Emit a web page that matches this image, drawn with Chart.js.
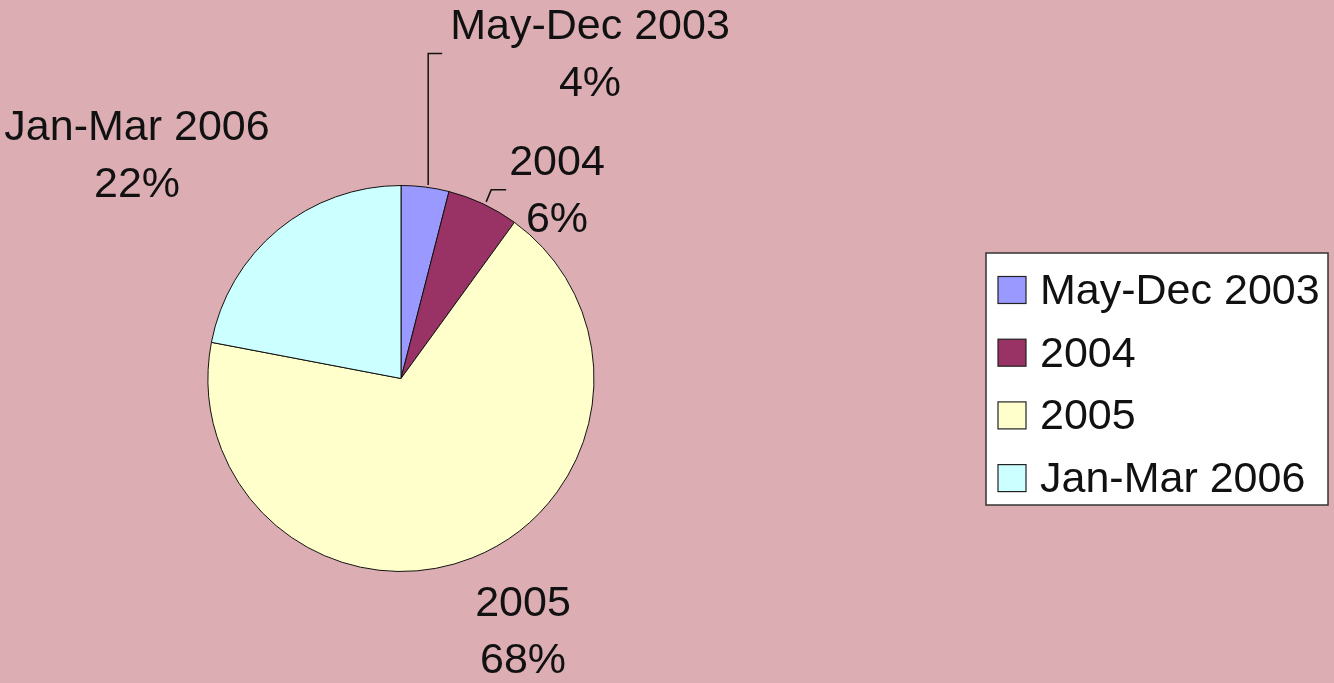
<!DOCTYPE html>
<html>
<head>
<meta charset="utf-8">
<script src="https://cdn.jsdelivr.net/npm/chart.js@4"></script>
<style>
  html, body { margin: 0; padding: 0; background: #dcaeb3; }
  #wrap { width: 1334px; height: 683px; }
</style>
</head>
<body>
<div id="wrap"><canvas id="grafico" width="1334" height="683"></canvas></div>
<script>
// dados do gráfico
const periodos = ['May-Dec 2003', '2004', '2005', 'Jan-Mar 2006'];
const valores = [4, 6, 68, 22];
const cores = ['#9999ff', '#993366', '#ffffcc', '#ccffff'];

const FONTE = '43px "Liberation Sans", Arial, sans-serif';

// rótulos com linhas de chamada (posição relativa ao centro da pizza)
const rotulosPlugin = {
    id: 'rotulos',
    afterDatasetsDraw(chart) {
        const ctx = chart.ctx;
        const meta = chart.getDatasetMeta(0);
        const total = valores.reduce((a, b) => a + b, 0);
        const cx = meta.data[0].x, cy = meta.data[0].y, r = meta.data[0].outerRadius;
        const desloc = [[189, -351], [156, -215], [122, 226], [-264, -250]];

        ctx.save();
        ctx.font = FONTE;
        ctx.fillStyle = '#111';
        ctx.textAlign = 'center';
        ctx.textBaseline = 'middle';
        periodos.forEach((p, i) => {
            const pct = Math.round(valores[i] / total * 100) + '%';
            const x = cx + desloc[i][0], y = cy + desloc[i][1];
            ctx.fillText(p, x, y);
            ctx.fillText(pct, x, y + 57);
        });

        // linhas de chamada
        ctx.strokeStyle = '#111';
        ctx.lineWidth = 1.5;
        const arc0 = meta.data[0];
        const m0 = (arc0.startAngle + arc0.endAngle) / 2;
        const x0 = cx + Math.cos(m0) * r, y0 = cy + Math.sin(m0) * r;
        ctx.beginPath();
        ctx.moveTo(x0 + 3, y0 - 2);
        ctx.lineTo(x0 + 3, cy - 325);
        ctx.lineTo(x0 + 17, cy - 325);
        ctx.stroke();

        const arc1 = meta.data[1];
        const m1 = (arc1.startAngle + arc1.endAngle) / 2;
        const x1 = cx + Math.cos(m1) * r, y1 = cy + Math.sin(m1) * r;
        ctx.beginPath();
        ctx.moveTo(x1 + 3, y1 - 2);
        ctx.lineTo(x1 + 8, y1 - 14);
        ctx.lineTo(x1 + 23, y1 - 14);
        ctx.stroke();
        ctx.restore();
    }
};

// legenda em caixa branca à direita
const legendaPlugin = {
    id: 'legenda',
    afterDraw(chart) {
        const ctx = chart.ctx;
        const bx = chart.width - 348, by = 253, bw = 342, bh = 252;
        ctx.save();
        ctx.fillStyle = '#ffffff';
        ctx.fillRect(bx, by, bw, bh);
        ctx.strokeStyle = '#333';
        ctx.lineWidth = 1.5;
        ctx.strokeRect(bx, by, bw, bh);

        ctx.font = FONTE;
        ctx.textAlign = 'left';
        ctx.textBaseline = 'middle';
        periodos.forEach((p, i) => {
            const yc = by + 37 + i * 62.7;
            ctx.fillStyle = cores[i];
            ctx.fillRect(bx + 12, yc - 13.5, 28, 27);
            ctx.strokeStyle = '#222';
            ctx.lineWidth = 1.2;
            ctx.strokeRect(bx + 12, yc - 13.5, 28, 27);
            ctx.fillStyle = '#111';
            ctx.fillText(p, bx + 54, yc + 2);
        });
        ctx.restore();
    }
};

const ctx = document.getElementById('grafico').getContext('2d');
const grafico = new Chart(ctx, {
    type: 'pie',
    data: {
        labels: periodos,
        datasets: [{
            data: valores,
            backgroundColor: cores,
            borderColor: '#111',
            borderWidth: 1
        }]
    },
    options: {
        responsive: false,
        animation: false,
        radius: 193,
        layout: { padding: { left: 0, right: 532, top: 74, bottom: 0 } },
        plugins: {
            legend: { display: false },
            tooltip: { enabled: false }
        }
    },
    plugins: [rotulosPlugin, legendaPlugin]
});
</script>
</body>
</html>
